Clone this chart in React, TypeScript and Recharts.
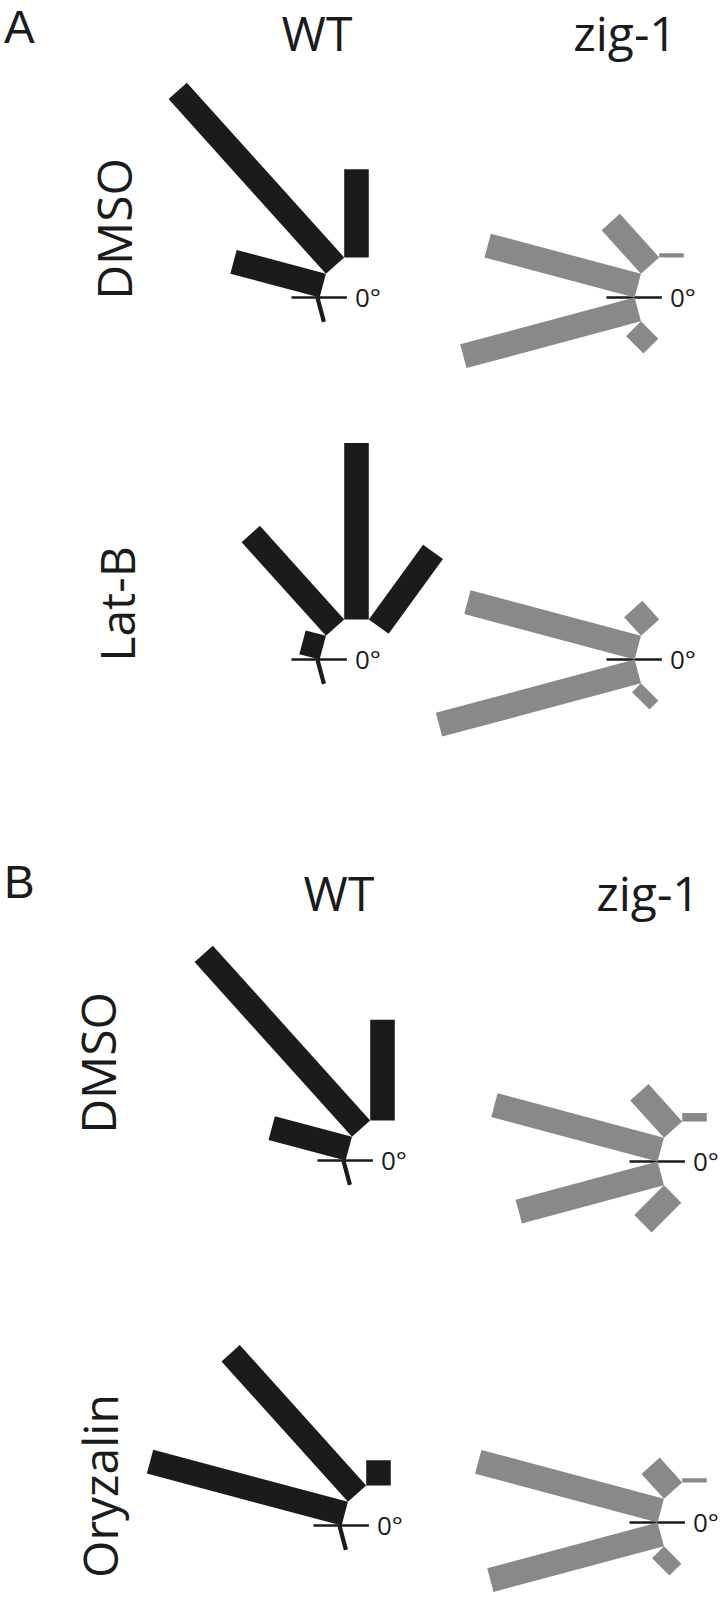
import React from "react";
import { ScatterChart, Scatter, XAxis, YAxis, ReferenceLine } from "recharts";

// direction of each bin, degrees (0 = right, counter-clockwise)
const binAngles = [165, 132, 90, 54, 195, 225];

// % of cells per bin, same order as binAngles
const wtDmsoA = [22, 56, 21, 0, 1, 0];
const zigDmsoA = [37, 14, 1, 0, 43, 5];
const wtLatB = [5, 30, 42, 22, 1, 0];
const zigLatB = [42, 6, 0, 0, 49, 3];
const wtDmsoB = [19, 56, 24, 0, 1, 0];
const zigDmsoB = [41, 12, 2, 0, 35, 10];
const wtOryzalin = [48, 45, 6, 0, 1, 0];
const zigOryzalin = [45, 8, 1, 0, 42, 4];

const BLACK = "#1b1b1b";
const GREY = "#898989";
const FONT = "'Open Sans', 'Noto Sans', sans-serif";
const PANEL_FONT = "'Liberation Sans', Arial, sans-serif";

const K = 4.2; // px per % unit
const X_DOMAIN = [-68, 30];
const Y_DOMAIN = [-26, 58];
const BAR_W = 5.85; // bar thickness, in % units
const AXIS_SEG = [-6.7, 6.5];

type Pt = { x: number; y: number };

// bars sit side by side: each base starts where the previous one ended,
// upper half walks from 180 towards 0, lower half from 180 towards 360
function buildBars(values: number[]): Pt[][] {
  const out: Pt[][] = [];
  const rad = Math.PI / 180;
  const walk = (order: number[], turn: number) => {
    let px = 0;
    let py = 0;
    order.forEach((i) => {
      const v = values[i];
      if (!v) return;
      const a = binAngles[i] * rad;
      const d = a + turn;
      const mx = px + (BAR_W / 2) * Math.cos(d);
      const my = py + (BAR_W / 2) * Math.sin(d);
      out.push([
        { x: mx, y: my },
        { x: mx + v * Math.cos(a), y: my + v * Math.sin(a) },
      ]);
      px += BAR_W * Math.cos(d);
      py += BAR_W * Math.sin(d);
    });
  };
  const idx = binAngles.map((_, i) => i);
  walk(
    idx.filter((i) => binAngles[i] < 180).sort((a, b) => binAngles[b] - binAngles[a]),
    -Math.PI / 2
  );
  walk(
    idx.filter((i) => binAngles[i] > 180).sort((a, b) => binAngles[a] - binAngles[b]),
    Math.PI / 2
  );
  return out;
}

const noDot = () => <g />;

function Rose({ values, color, cx, cy }: { values: number[]; color: string; cx: number; cy: number }) {
  const bars = buildBars(values);
  const w = (X_DOMAIN[1] - X_DOMAIN[0]) * K;
  const h = (Y_DOMAIN[1] - Y_DOMAIN[0]) * K;
  return (
    <div style={{ position: "absolute", left: cx + X_DOMAIN[0] * K, top: cy - Y_DOMAIN[1] * K }}>
      <ScatterChart width={w} height={h} margin={{ top: 0, right: 0, bottom: 0, left: 0 }}>
        <XAxis type="number" dataKey="x" domain={X_DOMAIN} allowDataOverflow hide />
        <YAxis type="number" dataKey="y" domain={Y_DOMAIN} allowDataOverflow hide />
        {bars.map((pts, i) => (
          <Scatter
            key={i}
            data={pts}
            line={{ stroke: color, strokeWidth: BAR_W * K }}
            lineType="joint"
            shape={noDot}
            isAnimationActive={false}
          />
        ))}
        <ReferenceLine
          segment={[
            { x: AXIS_SEG[0], y: 0 },
            { x: AXIS_SEG[1], y: 0 },
          ]}
          stroke={BLACK}
          strokeWidth={2.5}
          ifOverflow="visible"
          label={{ value: "0°", position: "right", offset: 8, fill: BLACK, fontSize: 26, fontFamily: FONT }}
        />
      </ScatterChart>
    </div>
  );
}

function Head({ text, x, y, size = 48 }: { text: string; x: number; y: number; size?: number }) {
  return (
    <div
      style={{
        position: "absolute",
        left: x,
        top: y,
        transform: "translateX(-50%)",
        fontSize: size,
        lineHeight: 1,
        whiteSpace: "nowrap",
        color: BLACK,
      }}
    >
      {text}
    </div>
  );
}

function RowLabel({ text, x, y }: { text: string; x: number; y: number }) {
  return (
    <div
      style={{
        position: "absolute",
        left: x,
        top: y,
        transform: "translate(-50%, -50%) rotate(-90deg)",
        fontSize: 48,
        lineHeight: 1,
        whiteSpace: "nowrap",
        color: BLACK,
      }}
    >
      {text}
    </div>
  );
}

function PanelLetter({ text, y }: { text: string; y: number }) {
  return (
    <div
      style={{
        position: "absolute",
        left: 4,
        top: y,
        fontSize: 46,
        lineHeight: "normal",
        fontFamily: PANEL_FONT,
        color: BLACK,
      }}
    >
      {text}
    </div>
  );
}

export default function App() {
  return (
    <div
      style={{
        position: "absolute",
        left: 0,
        top: 0,
        width: 720,
        height: 1598,
        background: "#fff",
        overflow: "hidden",
        fontFamily: FONT,
      }}
    >
      <Rose values={wtDmsoA} color={BLACK} cx={320} cy={298} />
      <Rose values={zigDmsoA} color={GREY} cx={635} cy={298} />
      <Rose values={wtLatB} color={BLACK} cx={320} cy={660} />
      <Rose values={zigLatB} color={GREY} cx={635} cy={660} />
      <Rose values={wtDmsoB} color={BLACK} cx={346} cy={1161} />
      <Rose values={zigDmsoB} color={GREY} cx={658} cy={1162} />
      <Rose values={wtOryzalin} color={BLACK} cx={342} cy={1526} />
      <Rose values={zigOryzalin} color={GREY} cx={658} cy={1523} />

      <PanelLetter text="A" y={0} />
      <Head text="WT" x={317} y={9} />
      <Head text="zig-1" x={625} y={9} />
      <RowLabel text="DMSO" x={114} y={229} />
      <RowLabel text="Lat-B" x={117} y={604} />

      <PanelLetter text="B" y={855} />
      <Head text="WT" x={339} y={869} />
      <Head text="zig-1" x={648} y={869} />
      <RowLabel text="DMSO" x={98} y={1063} />
      <RowLabel text="Oryzalin" x={100} y={1486} />
    </div>
  );
}
